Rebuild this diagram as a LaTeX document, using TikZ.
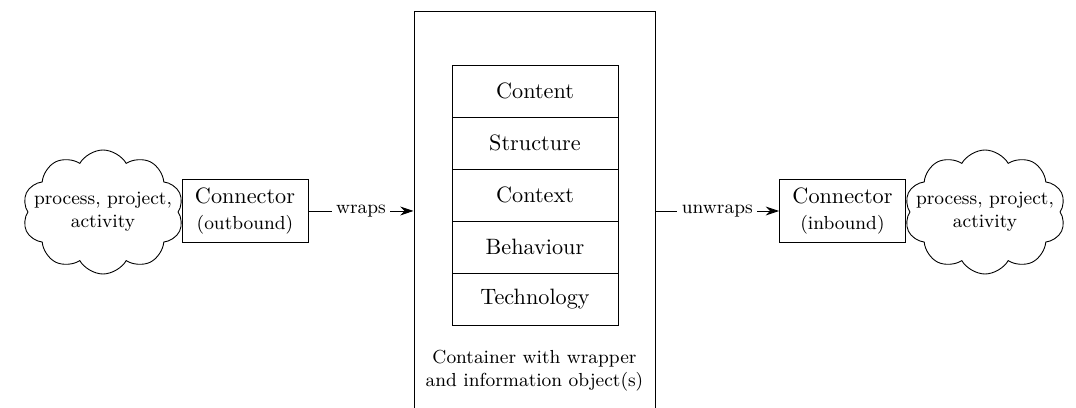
\documentclass[tikz,border=0pt]{standalone}
\usetikzlibrary{shapes.symbols,arrows.meta,positioning}
\newcommand{\smalltext}{\fontsize{8.5}{10.5}\selectfont}
\tikzset{
  layer/.style={draw,minimum width=74.7pt,minimum height=23.4pt,outer sep=0pt},
  conn/.style={draw,fill=white,minimum width=56.7pt,minimum height=28.4pt,align=center,inner sep=1pt},
  blob/.style={cloud,draw,fill=white,cloud puffs=10,cloud puff arc=120,
    minimum width=72.5pt,minimum height=55.8pt,inner sep=0pt},
  tag/.style={fill=white,font=\smalltext,inner sep=2pt},
}
\begin{document}
\begin{tikzpicture}[x=0.45pt,y=-0.45pt,>={Stealth[length=6pt,width=4pt]},thin]
\clip (0,0) rectangle (1076,408);
% container
\node[draw,minimum width=108.5pt,minimum height=198pt] (box) at (534.5,231) {};
\node[layer] (content) at (535,91) {Content};
\node[layer,below=0pt of content] (structure) {Structure};
\node[layer,below=0pt of structure] (context) {Context};
\node[layer,below=0pt of context] (behaviour) {Behaviour};
\node[layer,below=0pt of behaviour] (technology) {Technology};
\node[font=\smalltext,align=center] (caption) at (534.5,371) {Container with wrapper\\and information object(s)};
% both ends
\node[conn] (outconn) at (245,211) {Connector\\{\smalltext(outbound)}};
\node[blob] (outcloud) at (103,212) {};
\node[font=\smalltext,align=center] (outtext) at (outcloud) {process, project,\\activity};
\node[conn] (inconn) at (842.5,211) {Connector\\{\smalltext(inbound)}};
\node[blob] (incloud) at (985,212) {};
\node[font=\smalltext,align=center] (intext) at (incloud) {process, project,\\activity};
\draw[->] (outconn.east) -- node[tag] {wraps} (outconn.east -| box.west);
\draw[->] (box.east |- inconn.west) -- node[tag] {unwraps} (inconn.west);
\end{tikzpicture}
\end{document}
